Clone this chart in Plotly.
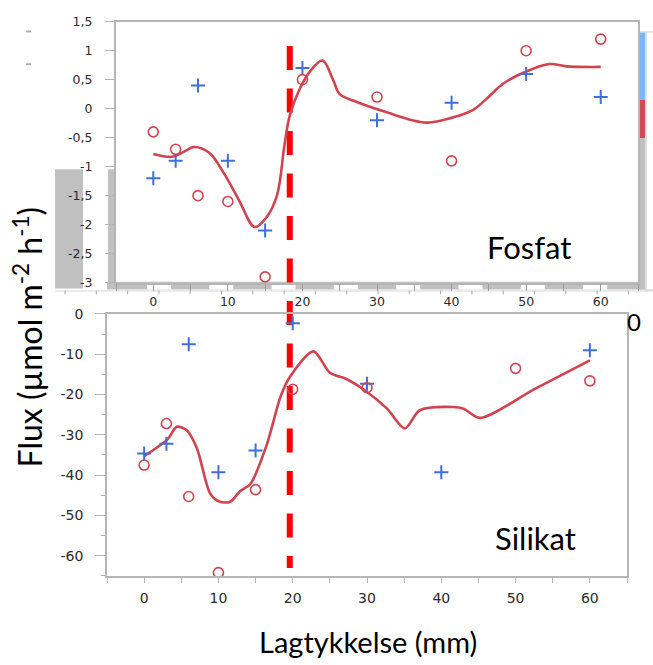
import plotly.graph_objects as go

W, H = 653, 665

# ---------------- data ----------------
depth = [0, 3, 6, 10, 15, 20, 30, 40, 50, 60]
fosfat_circle = [-0.4, -0.7, -1.5, -1.6, -2.9, 0.5, 0.2, -0.9, 1.0, 1.2]
fosfat_cross = [-1.2, -0.9, 0.4, -0.9, -2.1, 0.7, -0.2, 0.1, 0.6, 0.2]
fosfat_fit_x = [0, 2.5, 4.0, 5.5, 7.5, 9.5, 11.5, 13.6, 15.2, 16.6, 17.6, 18.3, 19.6,
                21.0, 22.7, 24.1, 25.0, 26.8, 31.0, 36.6, 40.2, 42.9, 45.1, 46.9,
                50.0, 53.1, 55.4, 60.0]
fosfat_fit_y = [-0.78, -0.83, -0.75, -0.66, -0.76, -1.12, -1.58, -2.04, -1.87, -1.49,
                -0.62, -0.12, 0.33, 0.64, 0.83, 0.5, 0.25, 0.14, -0.05, -0.24, -0.15,
                -0.02, 0.22, 0.43, 0.64, 0.77, 0.73, 0.72]

silikat_circle_x = [0, 3, 6, 10, 15, 20, 30, 50, 60]
silikat_circle = [-37.5, -27.2, -45.3, -64.2, -43.6, -18.7, -18.3, -13.5, -16.6]
silikat_cross_x = [0, 3, 6, 10, 15, 20, 30, 40, 60]
silikat_cross = [-34.6, -32.2, -7.5, -39.3, -33.9, -2.3, -17.3, -39.3, -9.0]
silikat_fit_x = [0, 3.1, 4.4, 5.7, 7.1, 8.9, 10.2, 11.6, 12.9, 14.3, 16.5, 18.4, 19.7,
                 22.8, 25.0, 27.3, 29.5, 32.7, 35.1, 37.1, 41.6, 43.0, 45.2, 52.6, 60]
silikat_fit_y = [-35.3, -31.2, -28.0, -28.8, -33.3, -44.6, -46.6, -46.6, -44.0, -42.2,
                 -32.5, -20.3, -15.4, -9.3, -14.6, -16.2, -18.7, -23.5, -28.4, -23.9,
                 -23.1, -23.5, -25.8, -18.6, -11.5]

threshold_mm = 18.3

x_tick_vals = [0, 10, 20, 30, 40, 50, 60]
x_tick_text = ["0", "10", "20", "30", "40", "50", "60"]
fos_tick_vals = [-3, -2.5, -2, -1.5, -1, -0.5, 0, 0.5, 1, 1.5]
fos_tick_text = ["-3", "-2,5", "-2", "-1,5", "-1", "-0,5", "0", "0,5", "1", "1,5"]
sil_tick_vals = [-60, -50, -40, -30, -20, -10, 0]
sil_tick_text = ["-60", "-50", "-40", "-30", "-20", "-10", "0"]

# ---------------- helpers (pixel -> paper) ----------------
def P(x):
    return x / W

def Q(y):
    return 1 - y / H

RED = "#d2434f"
BLUE = "#3f6fd8"
AX = "#b5b5b5"
TICKFONT_TOP = dict(family="DejaVu Sans", size=12.5, color="#2a2a2a")
TICKFONT_BOT = dict(family="DejaVu Sans", size=14, color="#2a2a2a")

fig = go.Figure()

# top (Fosfat)
fig.add_trace(go.Scatter(x=fosfat_fit_x, y=fosfat_fit_y, mode="lines",
                         line=dict(color=RED, width=2.6, shape="spline", smoothing=1),
                         xaxis="x", yaxis="y", showlegend=False))
fig.add_trace(go.Scatter(x=depth, y=fosfat_cross, mode="markers",
                         marker=dict(symbol="cross-thin", size=10, line=dict(color=BLUE, width=2)),
                         xaxis="x", yaxis="y", showlegend=False))
fig.add_trace(go.Scatter(x=depth, y=fosfat_circle, mode="markers",
                         marker=dict(symbol="circle-open", size=10, color=RED, line=dict(color=RED, width=1.6)),
                         xaxis="x", yaxis="y", showlegend=False))

# bottom (Silikat)
fig.add_trace(go.Scatter(x=silikat_fit_x, y=silikat_fit_y, mode="lines",
                         line=dict(color=RED, width=2.6, shape="spline", smoothing=0.8),
                         xaxis="x2", yaxis="y2", showlegend=False))
fig.add_trace(go.Scatter(x=silikat_cross_x, y=silikat_cross, mode="markers",
                         marker=dict(symbol="cross-thin", size=10, line=dict(color=BLUE, width=2)),
                         xaxis="x2", yaxis="y2", showlegend=False))
fig.add_trace(go.Scatter(x=silikat_circle_x, y=silikat_circle, mode="markers",
                         marker=dict(symbol="circle-open", size=10, color=RED, line=dict(color=RED, width=1.6)),
                         xaxis="x2", yaxis="y2", showlegend=False))

shapes = []
GRAY = "#c0c0c0"
# left gray blocks
shapes.append(dict(type="rect", xref="paper", yref="paper", x0=P(55), x1=P(83), y0=Q(287), y1=Q(165),
                   fillcolor=GRAY, line=dict(width=0), layer="below"))
shapes.append(dict(type="rect", xref="paper", yref="paper", x0=P(108), x1=P(116), y0=Q(287), y1=Q(165),
                   fillcolor=GRAY, line=dict(width=0), layer="below"))
# bottom strip of top plot
shapes.append(dict(type="rect", xref="paper", yref="paper", x0=P(107), x1=P(645), y0=Q(288), y1=Q(280),
                   fillcolor=GRAY, line=dict(width=0), layer="below"))
for k in range(8):
    x0 = 147 + 62.3 * k
    shapes.append(dict(type="rect", xref="paper", yref="paper", x0=P(x0), x1=P(x0 + 24), y0=Q(288), y1=Q(281.5),
                       fillcolor="white", line=dict(width=0), layer="below"))
# right color column
shapes.append(dict(type="rect", xref="paper", yref="paper", x0=P(638), x1=P(645), y0=Q(288), y1=Q(133),
                   fillcolor=GRAY, line=dict(width=0), layer="below"))
shapes.append(dict(type="rect", xref="paper", yref="paper", x0=P(638.5), x1=P(645), y0=Q(94), y1=Q(25),
                   fillcolor="#7db6f4", line=dict(width=0), layer="below"))
shapes.append(dict(type="rect", xref="paper", yref="paper", x0=P(638.5), x1=P(645), y0=Q(133), y1=Q(94),
                   fillcolor="#d44856", line=dict(width=0), layer="below"))
shapes.append(dict(type="line", xref="paper", yref="paper", x0=P(646), x1=P(646), y0=Q(25), y1=Q(288),
                   line=dict(color="#bdbdbd", width=1), layer="below"))
shapes.append(dict(type="line", xref="paper", yref="paper", x0=P(638), x1=P(653), y0=Q(24.5), y1=Q(24.5),
                   line=dict(color="#c8c8c8", width=1), layer="below"))
shapes.append(dict(type="line", xref="paper", yref="paper", x0=P(645), x1=P(653), y0=Q(288.5), y1=Q(288.5),
                   line=dict(color="#c8c8c8", width=1), layer="below"))
# faint stray axis under the top plot
shapes.append(dict(type="line", xref="paper", yref="paper", x0=P(55), x1=P(653), y0=Q(289.5), y1=Q(289.5),
                   line=dict(color="#d6d6d6", width=1), layer="below"))
for k in range(19):
    xt = 65 + 31.3 * k
    shapes.append(dict(type="line", xref="paper", yref="paper", x0=P(xt), x1=P(xt), y0=Q(289), y1=Q(293),
                       line=dict(color="#a8a8a8", width=1), layer="below"))
# small stray dashes at top-left
for yy in (24, 57.5):
    shapes.append(dict(type="line", xref="paper", yref="paper", x0=P(26), x1=P(31), y0=Q(yy), y1=Q(yy),
                       line=dict(color="#b0b0b0", width=2), layer="below"))
# red dashed threshold line across both panels
shapes.append(dict(type="line", xref="x", yref="paper", x0=threshold_mm, x1=threshold_mm,
                   y0=Q(39), y1=Q(573), line=dict(color="#ff0000", width=6, dash="24px,18.5px"),
                   layer="below"))

annotations = [
    dict(text="Fosfat", xref="x", yref="y", x=50.4, y=-2.39, showarrow=False,
         xanchor="center", yanchor="middle",
         font=dict(family="Lato", size=31, color="black")),
    dict(text="Silikat", xref="x2", yref="y2", x=52.7, y=-55.5, showarrow=False,
         xanchor="center", yanchor="middle",
         font=dict(family="Lato", size=31, color="black")),
    dict(text="Lagtykkelse (mm)", xref="paper", yref="paper", x=P(368), y=Q(648), showarrow=False,
         xanchor="center", yanchor="middle",
         font=dict(family="Lato", size=29, color="black")),
    dict(text="Flux (µmol m<sup>-2</sup> h<sup>-1</sup>)", xref="paper", yref="paper",
         x=P(28), y=Q(337), textangle=-90, showarrow=False,
         xanchor="center", yanchor="middle",
         font=dict(family="Lato", size=32, color="black")),
    dict(text="0", xref="paper", yref="paper", x=P(634), y=Q(321), showarrow=False,
         xanchor="center", yanchor="middle",
         font=dict(family="Lato", size=24, color="black")),
]

fig.update_layout(
    width=W, height=H, autosize=False,
    margin=dict(l=0, r=0, t=0, b=0, pad=0),
    paper_bgcolor="white", plot_bgcolor="rgba(0,0,0,0)",
    showlegend=False,
    shapes=shapes, annotations=annotations,
    xaxis=dict(domain=[P(116), P(638)], range=[-5, 65], anchor="y",
               tickvals=x_tick_vals, ticktext=x_tick_text, tickfont=TICKFONT_TOP,
               showgrid=False, zeroline=False, showline=True, linecolor=AX, linewidth=1.5,
               mirror=True, ticks="outside", ticklen=7, tickcolor="#9a9a9a", tickwidth=1,
               ticklabelstandoff=0,
               minor=dict(dtick=5, tick0=0, ticks="outside", ticklen=7, tickcolor="#9a9a9a")),
    yaxis=dict(domain=[Q(281), Q(14)], range=[-3, 1.5], anchor="x",
               tickvals=fos_tick_vals, ticktext=fos_tick_text, tickfont=TICKFONT_TOP,
               showgrid=False, zeroline=False, showline=True, linecolor=AX, linewidth=2,
               mirror=True, ticks="outside", ticklen=9, tickcolor=AX, tickwidth=1,
               ticklabelstandoff=10),
    xaxis2=dict(domain=[P(107), P(627)], range=[-5, 65], anchor="y2",
                tickvals=x_tick_vals, ticktext=x_tick_text, tickfont=TICKFONT_BOT,
                showgrid=False, zeroline=False, showline=True, linecolor=AX, linewidth=1.5,
                mirror=True, ticks="outside", ticklen=5, tickcolor=AX, tickwidth=1,
                ticklabelstandoff=4,
                minor=dict(dtick=5, tick0=0, ticks="outside", ticklen=5, tickcolor=AX)),
    yaxis2=dict(domain=[Q(581), Q(313)], range=[-65, 0], anchor="x2",
                tickvals=sil_tick_vals, ticktext=sil_tick_text, tickfont=TICKFONT_BOT,
                showgrid=False, zeroline=False, showline=True, linecolor=AX, linewidth=1.5,
                mirror=True, ticks="outside", ticklen=10, tickcolor=AX, tickwidth=1,
                ticklabelstandoff=9,
                minor=dict(dtick=5, tick0=0, ticks="outside", ticklen=4, tickcolor=AX)),
)

fig.write_html("out.html")
